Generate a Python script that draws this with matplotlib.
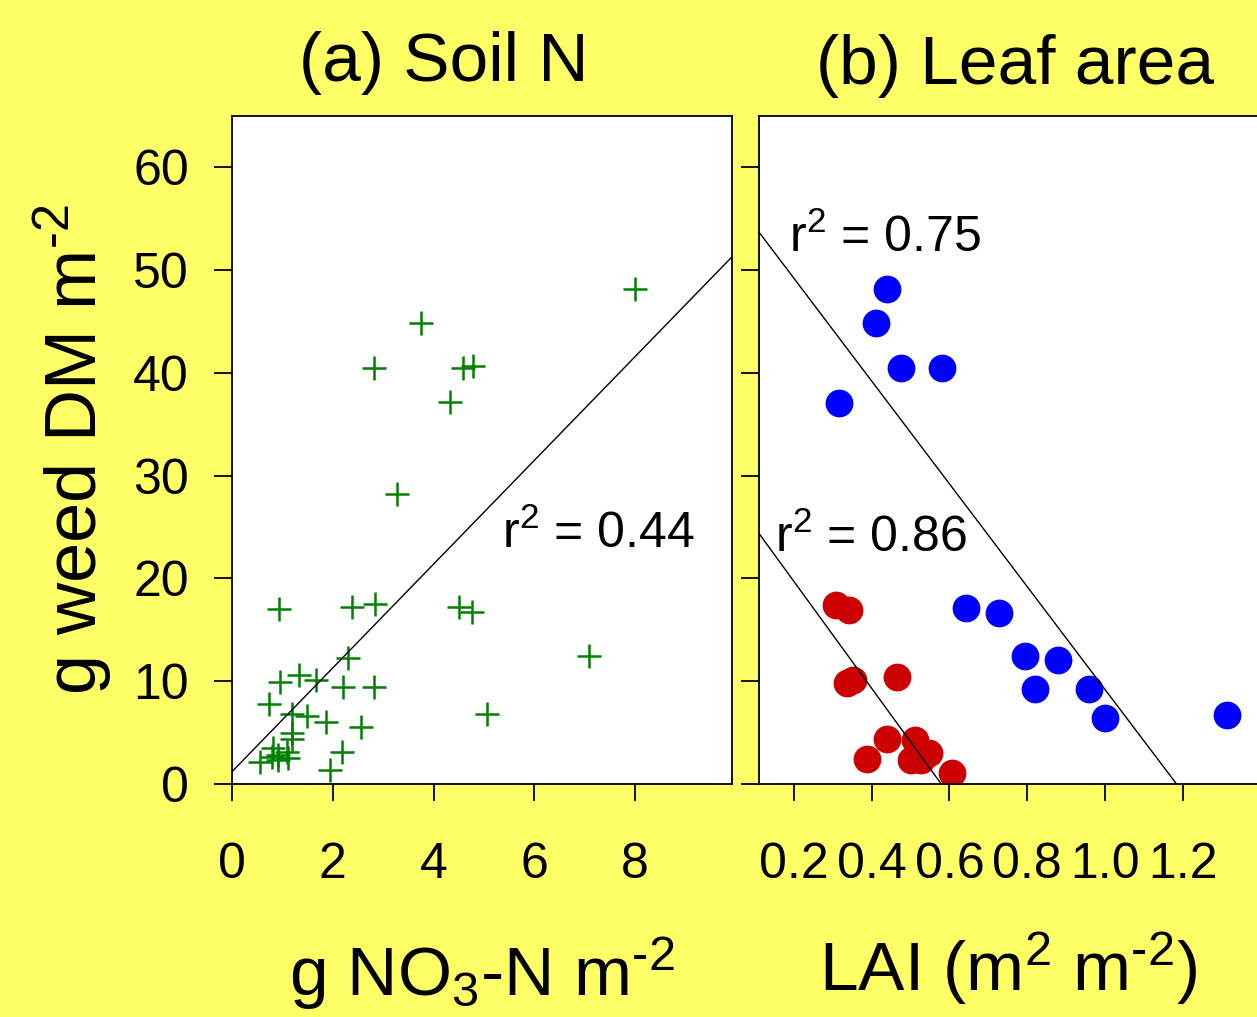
import matplotlib
matplotlib.use('Agg')
import matplotlib.pyplot as plt
import numpy as np

plt.rcParams['font.family'] = ['Liberation Sans', 'DejaVu Sans']
plt.rcParams['mathtext.fontset'] = 'custom'
plt.rcParams['mathtext.rm'] = 'Liberation Sans'
plt.rcParams['mathtext.default'] = 'regular'

# (a) soil nitrate vs weed dry matter
no3 = [8.0, 3.75, 2.82, 4.58, 4.78, 4.33, 3.27,
       0.93, 2.38, 2.84, 4.50, 4.76, 2.30, 0.95, 1.33, 1.67, 2.20, 2.82, 5.06, 7.08,
       0.73, 1.19, 1.49, 1.87, 2.56, 2.18, 1.94, 1.19, 1.19, 0.56, 0.81, 0.91, 0.91,
       1.09, 1.11, 0.79]
dm_a = [48.2, 44.9, 40.5, 40.5, 40.7, 37.2, 28.2,
        17.0, 17.2, 17.5, 17.2, 16.7, 12.3, 9.9, 10.6, 10.1, 9.4, 9.4, 6.8, 12.5,
        7.8, 6.8, 6.6, 6.0, 5.5, 3.1, 1.4, 5.0, 4.4, 2.1, 3.5, 2.8, 2.3,
        3.1, 2.5, 2.6]
fit_a = (1.2, 5.05)   # intercept, slope
r2_a = 0.44

# (b) LAI vs weed dry matter, two groups
lai_blue = [0.44, 0.41, 0.476, 0.58, 0.316, 0.643, 0.728, 0.793, 0.878, 0.819, 0.958, 1.001, 1.313]
dm_blue = [48.2, 44.9, 40.5, 40.5, 37.1, 17.1, 16.6, 12.5, 12.1, 9.2, 9.2, 6.4, 6.7]
lai_red = [0.308, 0.342, 0.337, 0.352, 0.465, 0.44, 0.388, 0.512, 0.548, 0.501, 0.527, 0.607]
dm_red = [17.4, 16.9, 9.8, 10.1, 10.4, 4.4, 2.4, 4.3, 3.0, 2.3, 2.3, 1.1]
fit_blue = (59.2, -50.0)
fit_red = (30.1, -52.0)
r2_blue = 0.75
r2_red = 0.86

bg = '#FFFF66'
W, H = 1257, 1017
fig = plt.figure(figsize=(W/100, H/100), dpi=100, facecolor=bg)

def box(x0, y0, x1, y1):
    return [x0/W, 1 - y1/H, (x1-x0)/W, (y1-y0)/H]

ax1 = fig.add_axes(box(232, 116, 732, 784))
ax2 = fig.add_axes(box(759, 116, 1257, 784))

# panel a
ax1.plot(no3, dm_a, ls='none', marker='+', ms=17, mew=1.8, color='#008000')
xs = np.array([0, 10])
ax1.plot(xs, fit_a[0] + fit_a[1]*xs, color='black', lw=1.0)
ax1.set_xlim(0, 9.92)
ax1.set_ylim(0, 65)
ax1.set_xticks([0, 2, 4, 6, 8])
ax1.set_yticks([0, 10, 20, 30, 40, 50, 60])
ax1.tick_params(axis='x', labelsize=36, length=12, width=1.3, pad=30)
ax1.tick_params(axis='y', labelsize=36, length=13, width=1.3, pad=18)
ax1.text(5.35, 23.0, 'r$^2$ = %.2f' % r2_a, fontsize=36)
ax1.set_xlabel('g NO$_3$-N m$^{\\text{-}2}$', fontsize=50, labelpad=34)
ax1.set_ylabel('g weed DM m$^{\\text{-}2}$', fontsize=52, labelpad=14)

# panel b
ax2.plot(lai_blue, dm_blue, ls='none', marker='o', ms=20, color='#0000FF', mec='none')
ax2.plot(lai_red, dm_red, ls='none', marker='o', ms=20, color='#CC0000', mec='none')
xs = np.array([0, 1.5])
ax2.plot(xs, fit_blue[0] + fit_blue[1]*xs, color='black', lw=1.0)
ax2.plot(xs, fit_red[0] + fit_red[1]*xs, color='black', lw=1.0)
ax2.set_xlim(0.11, 1.391)
ax2.set_ylim(0, 65)
ax2.set_xticks([0.2, 0.4, 0.6, 0.8, 1.0, 1.2])
ax2.set_xticklabels(['0.2', '0.4', '0.6', '0.8', '1.0', '1.2'])
ax2.set_yticks([0, 10, 20, 30, 40, 50, 60])
ax2.set_yticklabels([])
ax2.tick_params(axis='x', labelsize=36, length=12, width=1.3, pad=30)
ax2.tick_params(axis='y', length=13, width=1.3)
ax2.spines['right'].set_visible(False)
ax2.text(0.187, 51.8, 'r$^2$ = %.2f' % r2_blue, fontsize=36)
ax2.text(0.151, 22.6, 'r$^2$ = %.2f' % r2_red, fontsize=36)
ax2.set_xlabel('LAI (m$^2$ m$^{\\text{-}2}$)', fontsize=50, labelpad=30)

for ax in (ax1, ax2):
    for s in ax.spines.values():
        s.set_linewidth(1.3)

fig.text(444/W, 1 - 63/H, '(a) Soil N', fontsize=50, ha='center', va='center')
fig.text(1015/W, 1 - 66/H, '(b) Leaf area', fontsize=50, ha='center', va='center')

fig.savefig('out.png', dpi=100, facecolor=bg)
